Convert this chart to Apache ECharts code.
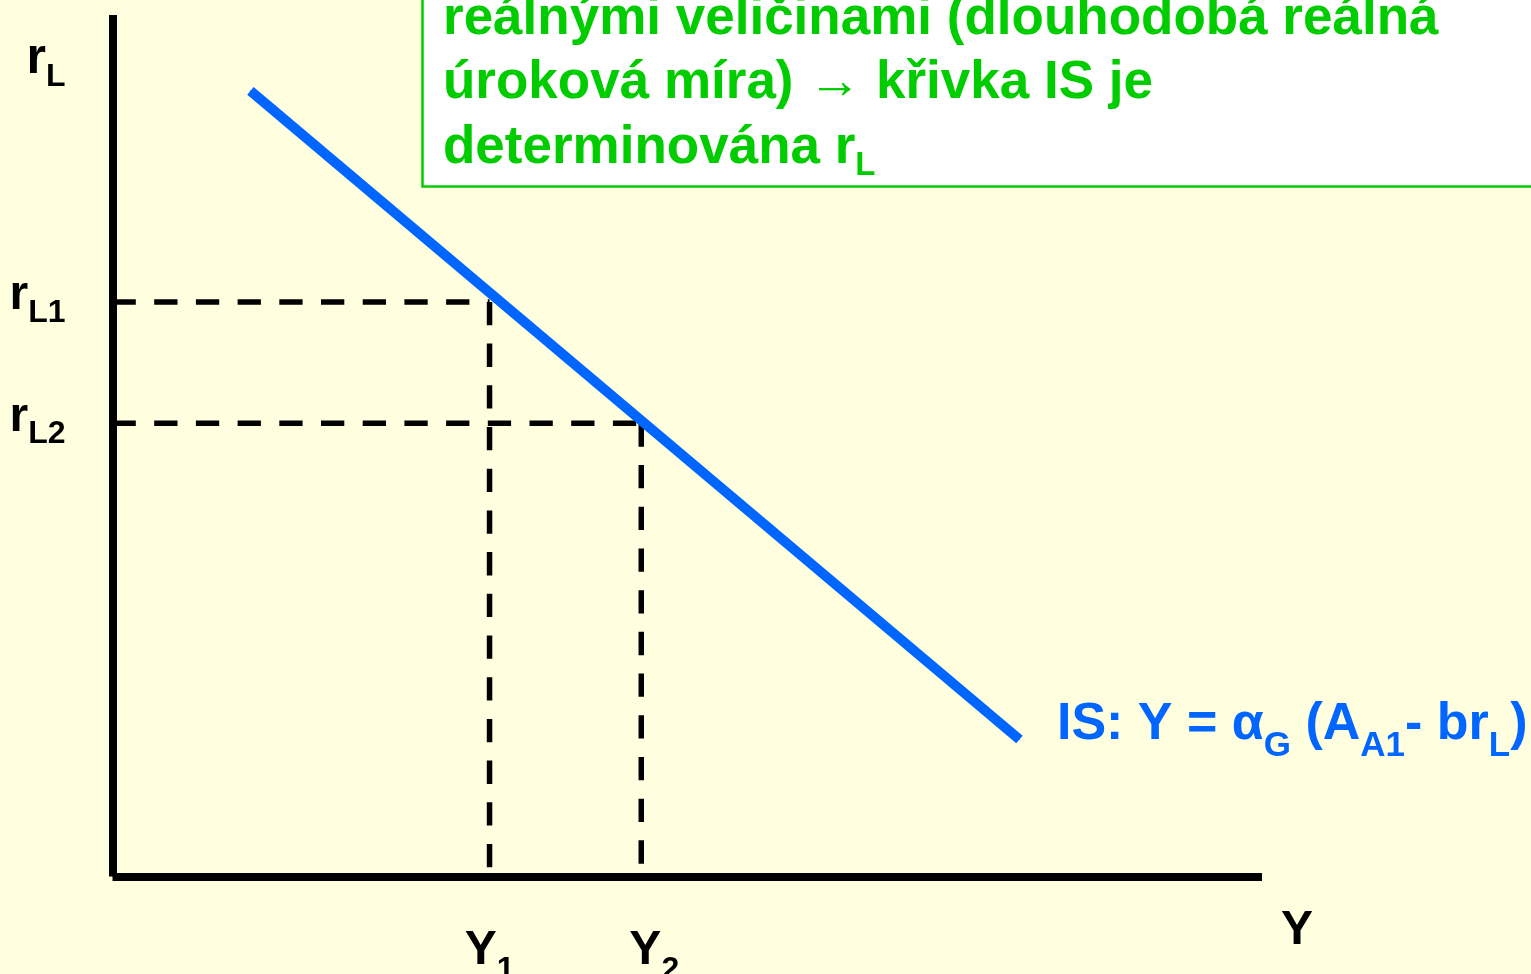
<!DOCTYPE html>
<html>
<head>
<meta charset="utf-8">
<title>IS křivka</title>
<script src="https://cdn.jsdelivr.net/npm/echarts@6/dist/echarts.min.js"></script>
<style>
  html, body { margin: 0; padding: 0; background: #FFFFE0; }
  #chart { width: 1531px; height: 974px; }
</style>
</head>
<body>
<div id="chart"></div>
<script>
// IS curve: real long-term interest rate r_L against output Y
const isCurve = [[12.0, 91.2], [78.9, 15.9]];      // [Y, r_L] end points of the IS line
const rateLevels = [66.7, 52.6];                   // r_L1, r_L2
const outputLevels = [32.8, 46.0];                 // Y1, Y2
const rateTickLabels = ['r{s|L1}', 'r{s|L2}'];
const outputTickLabels = ['Y{s|1}', 'Y{s|2}'];
const yAxisName = 'r{s|L}';
const xAxisName = '{n|Y}';
const isLabelText = 'IS: Y = α{s|G} (A{s|A1}- br{s|L})';
const noteLines = [
  'reálnými veličinami (dlouhodobá reálná',
  'úroková míra) → křivka IS je',
  'determinována r{s|L}'
];

const FONT = "'Liberation Sans', Arial, Helvetica, sans-serif";
const BLUE = '#0066FF';
const GREEN = '#00CC00';

function pickIndex(values, v) {
  return values.findIndex(x => Math.abs(x - v) < 1e-6);
}

// dashed guides from each axis to the curve
const guideSeries = [];
rateLevels.forEach((r, i) => {
  const y = outputLevels[i];
  const dash = { color: '#000', width: 5.5, type: [23.3, 18.4], cap: 'butt' };
  guideSeries.push({
    type: 'line', data: [[0, r], [y, r]], symbol: 'none',
    lineStyle: dash, silent: true, z: 2
  });
  guideSeries.push({
    type: 'line', data: [[y, r], [y, 0]], symbol: 'none',
    lineStyle: dash, silent: true, z: 2
  });
});

const last = isCurve.length - 1;

const option = {
  backgroundColor: '#FFFFE0',
  animation: false,
  textStyle: { fontFamily: FONT },
  title: {
    text: noteLines.join('\n'),
    left: 422,
    top: -23,
    padding: [10, 600, 4, 21],
    backgroundColor: '#FFFFFF',
    borderColor: GREEN,
    borderWidth: 2.5,
    textStyle: {
      color: GREEN, fontSize: 53, fontWeight: 'bold', fontFamily: FONT,
      lineHeight: 64.5,
      rich: {
        s: { color: GREEN, fontSize: 33, fontWeight: 'bold', fontFamily: FONT,
             lineHeight: 64.5, padding: [36, 0, 0, 0] }
      }
    }
  },
  grid: { left: 112.5, right: 269, top: 15, bottom: 97.5, containLabel: false, outerBoundsMode: 'none' },
  xAxis: {
    type: 'value', min: 0, max: 100,
    splitLine: { show: false },
    axisTick: { show: false },
    axisLine: { lineStyle: { color: '#000', width: 8, cap: 'butt' } },
    axisLabel: {
      customValues: outputLevels,
      // the second label sits a little right of its guide line
      formatter: v => {
        const i = pickIndex(outputLevels, v);
        return i < 0 ? '' : (i === 1 ? '{g| }' : '') + outputTickLabels[i];
      },
      margin: 46.5,
      color: '#000', fontSize: 48, fontWeight: 'bold', fontFamily: FONT, lineHeight: 56,
      rich: {
        s: { color: '#000', fontSize: 32, fontWeight: 'bold', fontFamily: FONT,
             lineHeight: 56, padding: [38, 0, 0, 0] },
        g: { width: 26, fontSize: 10, lineHeight: 56 }
      }
    },
    name: xAxisName,
    nameLocation: 'end',
    nameGap: 19,
    nameTextStyle: {
      color: '#000', fontSize: 48, fontWeight: 'bold', fontFamily: FONT,
      align: 'left', verticalAlign: 'middle', lineHeight: 56,
      rich: {
        n: { color: '#000', fontSize: 48, fontWeight: 'bold', fontFamily: FONT,
             lineHeight: 56, padding: [108, 0, 0, 0] }
      }
    }
  },
  yAxis: {
    type: 'value', min: 0, max: 100,
    splitLine: { show: false },
    axisTick: { show: false },
    axisLine: { lineStyle: { color: '#000', width: 8, cap: 'butt' } },
    axisLabel: {
      customValues: rateLevels,
      formatter: v => {
        const i = pickIndex(rateLevels, v);
        return i < 0 ? '' : rateTickLabels[i];
      },
      margin: 47,
      padding: [0, 0, 12, 0],
      color: '#000', fontSize: 48, fontWeight: 'bold', fontFamily: FONT, lineHeight: 56,
      rich: {
        s: { color: '#000', fontSize: 32, fontWeight: 'bold', fontFamily: FONT,
             lineHeight: 56, padding: [34, 0, 0, 0] }
      }
    },
    name: yAxisName,
    nameLocation: 'end',
    nameGap: -44,
    nameTextStyle: {
      color: '#000', fontSize: 50, fontWeight: 'bold', fontFamily: FONT,
      align: 'right', verticalAlign: 'middle', lineHeight: 56,
      padding: [0, 47, 0, 0],
      rich: {
        s: { color: '#000', fontSize: 32, fontWeight: 'bold', fontFamily: FONT,
             lineHeight: 56, padding: [36, 0, 0, 0] }
      }
    }
  },
  series: guideSeries.concat([{
    type: 'line',
    name: 'IS',
    z: 5,
    symbol: 'circle',
    symbolSize: 1,
    itemStyle: { color: BLUE },
    lineStyle: { color: BLUE, width: 10, cap: 'butt' },
    label: {
      show: false,
      position: 'right',
      distance: 37,
      offset: [0, -15],
      formatter: () => isLabelText,
      color: BLUE, fontSize: 52, fontWeight: 'bold', fontFamily: FONT, lineHeight: 60,
      rich: {
        s: { color: BLUE, fontSize: 35, fontWeight: 'bold', fontFamily: FONT,
             lineHeight: 60, padding: [44, 0, 0, 0] }
      }
    },
    data: isCurve.map((p, i) => i === last ? { value: p, label: { show: true } } : p)
  }])
};

const chart = echarts.init(document.getElementById('chart'), null, { renderer: 'canvas' });
chart.setOption(option);
</script>
</body>
</html>
